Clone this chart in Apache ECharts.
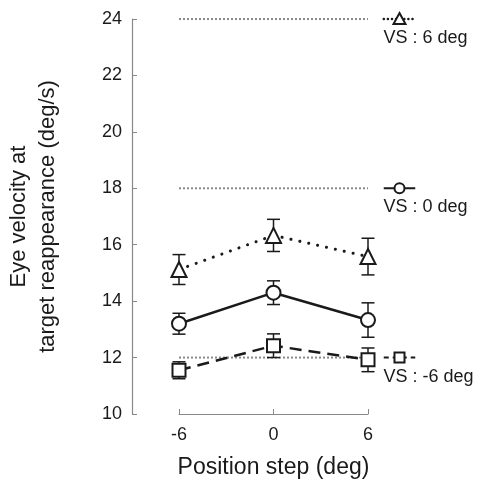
<!DOCTYPE html>
<html>
<head>
<meta charset="utf-8">
<script src="https://cdn.jsdelivr.net/npm/echarts@6/dist/echarts.min.js"></script>
<style>
html,body{margin:0;padding:0;background:#fff;}
#main{width:479px;height:484px;}
</style>
</head>
<body>
<div id="main"></div>
<script>
var chart = echarts.init(document.getElementById('main'));

// position steps (deg)
var steps = [-6, 0, 6];
// mean eye velocity and error (deg/s) for each velocity step
var vs6Mean = [15.12, 16.33, 15.58];
var vs6Err = [0.53, 0.57, 0.65];
var vs0Mean = [13.2, 14.3, 13.33];
var vs0Err = [0.37, 0.42, 0.61];
var vsm6Mean = [11.55, 12.42, 11.92];
var vsm6Err = [0.3, 0.42, 0.42];
// target velocity levels and their labels
var targetLevels = [24, 18, 12];
var targetNames = ['VS : 6 deg', 'VS : 0 deg', 'VS : -6 deg'];
var keyX = [7, 8, 9]; // where the key sits, on the x scale

var ink = '#1a1a1a';
var font = 'Liberation Sans, Arial, sans-serif';

function pairs(ys){
	var out = [];
	for(var i=0;i<steps.length;i++){ out.push([steps[i], ys[i]]); }
	return out;
}

function errSeries(mean, err){
	var d = [];
	for(var i=0;i<steps.length;i++){ d.push([steps[i], mean[i]-err[i], mean[i]+err[i]]); }
	return {
		type: 'custom',
		z: 1,
		silent: true,
		data: d,
		renderItem: function(params, api){
			var lo = api.coord([api.value(0), api.value(1)]);
			var hi = api.coord([api.value(0), api.value(2)]);
			var w = 6.5;
			var st = {stroke: ink, lineWidth: 1.5};
			return {
				type: 'group',
				children: [
					{type:'line', shape:{x1:lo[0], y1:lo[1], x2:hi[0], y2:hi[1]}, style: st},
					{type:'line', shape:{x1:lo[0]-w, y1:lo[1], x2:lo[0]+w, y2:lo[1]}, style: st},
					{type:'line', shape:{x1:hi[0]-w, y1:hi[1], x2:hi[0]+w, y2:hi[1]}, style: st}
				]
			};
		}
	};
}

function meanSeries(mean, symbol, size, lineType, cap, width){
	return {
		type: 'line',
		z: 3,
		data: pairs(mean),
		symbol: symbol,
		symbolSize: size,
		showAllSymbol: true,
		itemStyle: {color: '#fff', borderColor: ink, borderWidth: 2},
		lineStyle: {color: ink, width: width, type: lineType, cap: cap},
		silent: true
	};
}

function refSeries(level){
	return {
		type: 'line',
		z: 0,
		data: [[-6, level], [6, level]],
		symbol: 'none',
		silent: true,
		lineStyle: {color: '#8a8a8a', width: 2, type: [2, 2]}
	};
}

// key drawn next to each target level: short line, marker, label
function keySeries(level, name, shape, lineDash, lineCap, lw){
	return {
		type: 'custom',
		z: 4,
		silent: true,
		clip: false,
		data: [[keyX[0], keyX[1], keyX[2], level]],
		renderItem: function(params, api){
			var a = api.coord([api.value(0), api.value(3)]);
			var m = api.coord([api.value(1), api.value(3)]);
			var b = api.coord([api.value(2), api.value(3)]);
			var mark;
			var st = {fill: '#fff', stroke: ink, lineWidth: 2};
			if(shape === 'triangle'){
				mark = {type:'polygon', shape:{points:[[m[0], m[1]-6],[m[0]+6, m[1]+5],[m[0]-6, m[1]+5]]}, style: st};
			} else if(shape === 'circle'){
				mark = {type:'circle', shape:{cx:m[0], cy:m[1], r:5}, style: st};
			} else {
				mark = {type:'rect', shape:{x:m[0]-5, y:m[1]-5, width:10, height:10}, style: st};
			}
			return {
				type: 'group',
				children: [
					{type:'line', shape:{x1:a[0], y1:a[1], x2:b[0], y2:b[1]},
						style:{stroke: ink, lineWidth: lw, lineDash: lineDash, lineCap: lineCap}},
					mark,
					{type:'text', x: m[0]-16, y: m[1]+10,
						style:{text: name, fill: ink, fontSize: 18, fontFamily: font, align: 'left', verticalAlign: 'top'}}
				]
			};
		}
	};
}

var options = {
	animation: false,
	grid: {left: 179, right: 111, top: 19, bottom: 67},
	xAxis: {
		type: 'value',
		min: -6,
		max: 6,
		interval: 6,
		name: 'Position step (deg)',
		nameLocation: 'middle',
		nameGap: 42,
		nameTextStyle: {color: ink, fontSize: 23, fontFamily: font},
		splitLine: {show: false},
		axisLine: {onZero: false, lineStyle: {color: '#888', width: 1.2}},
		axisTick: {inside: true, length: 5, lineStyle: {color: '#888'}},
		axisLabel: {color: ink, fontSize: 18, fontFamily: font, margin: 12}
	},
	yAxis: {
		type: 'value',
		min: 10,
		max: 24,
		interval: 2,
		offset: 47,
		name: 'Eye velocity at\ntarget reappearance (deg/s)',
		nameLocation: 'middle',
		nameRotate: 90,
		nameGap: 70,
		nameTextStyle: {color: ink, fontSize: 22, fontFamily: font, lineHeight: 29},
		splitLine: {show: false},
		axisLine: {show: true, onZero: false, lineStyle: {color: '#888', width: 1.2}},
		axisTick: {show: true, inside: true, length: 5, lineStyle: {color: '#888'}},
		axisLabel: {color: ink, fontSize: 18, fontFamily: font, margin: 10}
	},
	series: [
		refSeries(targetLevels[0]),
		refSeries(targetLevels[1]),
		refSeries(targetLevels[2]),
		errSeries(vs6Mean, vs6Err),
		errSeries(vs0Mean, vs0Err),
		errSeries(vsm6Mean, vsm6Err),
		meanSeries(vs6Mean, 'triangle', 15, [0.1, 9], 'round', 3),
		meanSeries(vs0Mean, 'circle', 14, 'solid', 'butt', 2.5),
		meanSeries(vsm6Mean, 'rect', 13, [12, 7], 'butt', 2.5),
		keySeries(targetLevels[0], targetNames[0], 'triangle', [0.1, 4], 'round', 2.5),
		keySeries(targetLevels[1], targetNames[1], 'circle', null, 'butt', 2),
		keySeries(targetLevels[2], targetNames[2], 'rect', [5, 4], 'butt', 2)
	]
};
chart.setOption(options);
</script>
</body>
</html>
